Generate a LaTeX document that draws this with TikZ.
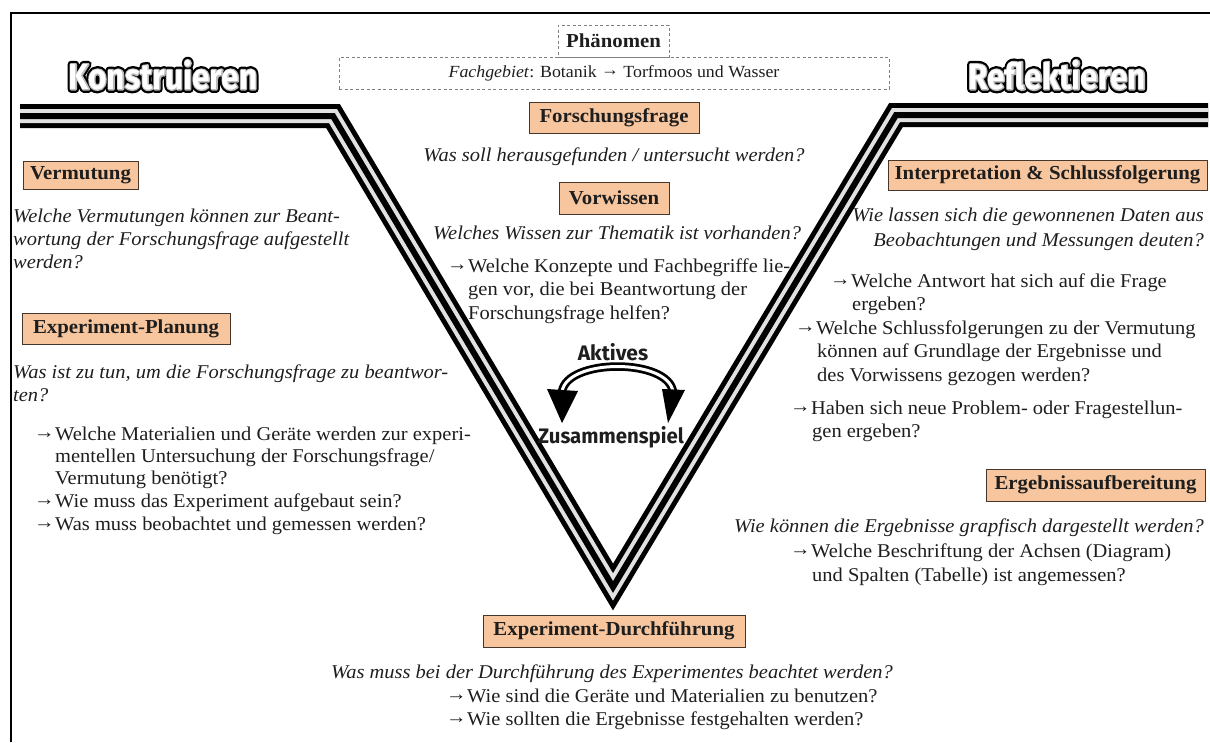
\documentclass[tikz,border=0pt]{standalone}
\usepackage{fontspec}
\usepackage{graphicx}
\setmainfont[FakeStretch=1.05]{Liberation Serif}
\newfontfamily\headsans{Fira Sans}
\usetikzlibrary{calc}
\definecolor{peach}{RGB}{247,198,158}
\definecolor{boxline}{RGB}{70,55,45}
\definecolor{ink}{RGB}{30,30,30}
\definecolor{stripe}{RGB}{225,225,225}
\newcommand{\bodyf}{\fontsize{19.5}{23}\selectfont}
\newcommand{\headf}{\fontsize{19.8}{23}\selectfont\bfseries}
\newcommand{\smallf}{\fontsize{17}{20}\selectfont}
\newcommand{\titlef}{\headsans\bfseries\fontsize{36}{36}\selectfont}
\newcommand{\sansf}{\headsans\bfseries\fontsize{21}{24}\selectfont}
\newcommand{\rarrow}{\raisebox{1.8pt}{→}}
\newcommand{\arr}{\makebox[21pt][l]{\rarrow}}
\newcommand{\strokeon}[1]{\special{pdf:literal direct 1 Tr #1 w 1 j}}
\newcommand{\strokeoff}{\special{pdf:literal direct 0 Tr}}
\tikzset{
  hbox/.style={draw=boxline, line width=0.9pt, fill=peach, inner sep=0pt, font=\headf, text=ink},
  txt/.style={anchor=base west, inner sep=0pt, font=\bodyf, text=ink},
  itx/.style={txt, font=\bodyf\itshape},
  itr/.style={itx, anchor=base east},
  itc/.style={itx, anchor=base},
  dbox/.style={draw=gray, dash pattern=on 3pt off 2.5pt, line width=0.8pt, inner sep=0pt, text=ink},
  sans/.style={font=\sansf, text=ink, inner sep=0pt},
  title/.style={font=\titlef, inner sep=0pt},
  vline/.style={line join=miter, line cap=butt}
}
\begin{document}
\begin{tikzpicture}[x=1pt,y=-1pt]
\useasboundingbox (0,0) rectangle (1210,742);
% frame
\draw[line width=2pt] (11,742) -- (11,13) -- (1210,13);
% V stripes
\coordinate (vL) at (20,116);
\coordinate (vLc) at (333,116);
\coordinate (vB) at (613,587);
\coordinate (vRc) at (896,115);
\coordinate (vR) at (1208,115);
\draw[vline, line width=24pt, black] (vL) -- (vLc) -- (vB) -- (vRc) -- (vR);
\draw[vline, line width=14pt, stripe] (vL) -- (vLc) -- (vB) -- (vRc) -- (vR);
\draw[vline, line width=6pt, black] (vL) -- (vLc) -- (vB) -- (vRc) -- (vR);
% titles with outline (stroked text, then filled text)
\node[title, text=black] (konsO) at (163,75) {\scalebox{0.88}[1]{\strokeon{7}Konstruieren\strokeoff}};
\node[title, text=gray!55] (konsG) at (163,75) {\scalebox{0.88}[1]{\strokeon{2.4}Konstruieren\strokeoff}};
\node[title, text=white] (kons) at (163,75) {\scalebox{0.88}[1]{Konstruieren}};
\node[title, text=black] (reflO) at (1057,75) {\scalebox{0.88}[1]{\strokeon{7}Reflektieren\strokeoff}};
\node[title, text=gray!55] (reflG) at (1057,75) {\scalebox{0.88}[1]{\strokeon{2.4}Reflektieren\strokeoff}};
\node[title, text=white] (refl) at (1057,75) {\scalebox{0.88}[1]{Reflektieren}};
% phenomenon
\node[dbox, minimum width=550pt, minimum height=32pt, font=\smallf] (fach) at (614,73) {\textit{Fachgebiet}: Botanik \rarrow{} Torfmoos und Wasser};
\node[dbox, minimum width=111pt, minimum height=32pt, font=\headf] (phaen) at (613.5,41) {Phänomen};
% heading boxes
\node[hbox, minimum width=115pt, minimum height=28pt] (verm) at (80.5,175) {Vermutung};
\node[hbox, minimum width=208pt, minimum height=31pt] (plan) at (126,328.5) {Experiment-Planung};
\node[hbox, minimum width=170pt, minimum height=31pt] (frage) at (614,117.5) {Forschungsfrage};
\node[hbox, minimum width=110pt, minimum height=32pt] (vorw) at (614,198) {Vorwissen};
\node[hbox, minimum width=319pt, minimum height=30pt] (interp) at (1047.5,175) {Interpretation \& Schlussfolgerung};
\node[hbox, minimum width=219pt, minimum height=32pt] (ergeb) at (1095.5,485) {Ergebnissaufbereitung};
\node[hbox, minimum width=262pt, minimum height=32pt] (durch) at (614,631) {Experiment-Durchführung};
% left column
\node[itx] (t1) at (13,222) {Welche Vermutungen können zur Beant-};
\node[itx] (t2) at (13,245) {wortung der Forschungsfrage aufgestellt};
\node[itx] (t3) at (13,268) {werden?};
\node[itx] (t4) at (13,378) {Was ist zu tun, um die Forschungsfrage zu beantwor-};
\node[itx] (t5) at (13,401) {ten?};
\node[txt] (t6) at (34,440) {\arr Welche Materialien und Geräte werden zur experi-};
\node[txt] (t7) at (55,462) {mentellen Untersuchung der Forschungsfrage/};
\node[txt] (t8) at (55,484) {Vermutung benötigt?};
\node[txt] (t9) at (34,507) {\arr Wie muss das Experiment aufgebaut sein?};
\node[txt] (t10) at (34,530) {\arr Was muss beobachtet und gemessen werden?};
% centre column
\node[itc] (c1) at (614,161) {Was soll herausgefunden / untersucht werden?};
\node[itc] (c2) at (617,239) {Welches Wissen zur Thematik ist vorhanden?};
\node[txt] (c3) at (447,272) {\arr Welche Konzepte und Fachbegriffe lie-};
\node[txt] (c4) at (468,295) {gen vor, die bei Beantwortung der};
\node[txt] (c5) at (468,319) {Forschungsfrage helfen?};
\node[sans] (akt) at (613,352) {Aktives};
\node[sans] (zus) at (611,437) {\scalebox{0.97}[1]{Zusammenspiel}};
% interplay arrows
\coordinate (arcL) at (562,392);
\coordinate (arcR) at (673,392);
\draw[line width=8.5pt, line cap=butt] (arcL) .. controls (566,358) and (669,358) .. (arcR);
\draw[line width=3pt, white, line cap=butt] (arcL) .. controls (566,358) and (669,358) .. (arcR);
\fill[black] (547,389) -- (578,391) -- (562,423) -- cycle;
\fill[black] (662,389) -- (685,390) -- (668,423) -- cycle;
% right column
\node[itr] (r1) at (1204,221) {Wie lassen sich die gewonnenen Daten aus};
\node[itr] (r2) at (1204,246) {Beobachtungen und Messungen deuten?};
\node[txt] (r3) at (830,287) {\arr Welche Antwort hat sich auf die Frage};
\node[txt] (r4) at (852,310) {ergeben?};
\node[txt] (r5) at (795,334) {\arr Welche Schlussfolgerungen zu der Vermutung};
\node[txt] (r6) at (817,357) {können auf Grundlage der Ergebnisse und};
\node[txt] (r7) at (817,381) {des Vorwissens gezogen werden?};
\node[txt] (r8) at (790,414) {\arr Haben sich neue Problem- oder Fragestellun-};
\node[txt] (r9) at (812,437) {gen ergeben?};
\node[itr] (r10) at (1204,532) {Wie können die Ergebnisse grapfisch dargestellt werden?};
\node[txt] (r11) at (790,557) {\arr Welche Beschriftung der Achsen (Diagram)};
\node[txt] (r12) at (812,581) {und Spalten (Tabelle) ist angemessen?};
% bottom
\node[itc] (b1) at (612,678) {Was muss bei der Durchführung des Experimentes beachtet werden?};
\node[txt] (b2) at (446,702) {\arr Wie sind die Geräte und Materialien zu benutzen?};
\node[txt] (b3) at (446,725) {\arr Wie sollten die Ergebnisse festgehalten werden?};
\end{tikzpicture}
\end{document}
